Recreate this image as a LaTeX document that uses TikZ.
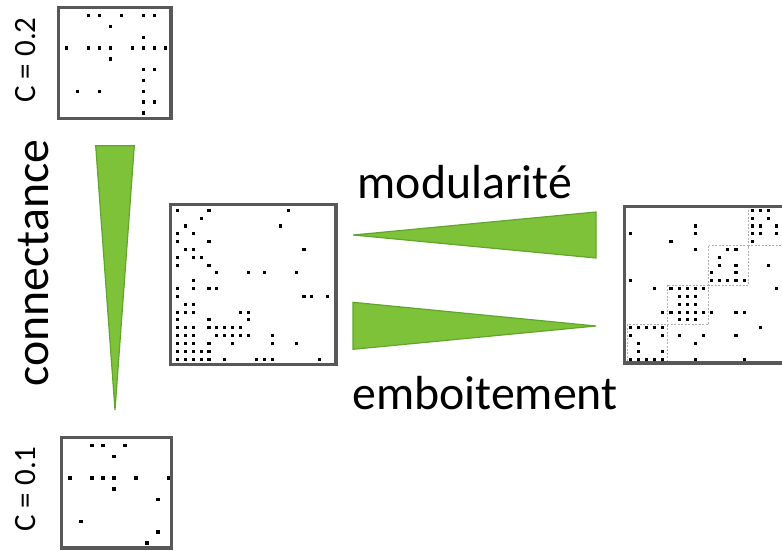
\documentclass[tikz,border=0pt]{standalone}
\usepackage{fontspec}
\setmainfont{Carlito}
\definecolor{framegray}{RGB}{88,88,88}
\definecolor{dashgray}{RGB}{175,175,175}
\definecolor{trigreen}{RGB}{126,194,58}
\definecolor{triedge}{RGB}{96,166,44}
\begin{document}
\begin{tikzpicture}[x=1pt,y=-1pt,
  frame/.style={draw=framegray,line width=3.4pt,inner sep=0pt,outer sep=0pt},
  tri/.style={fill=trigreen,draw=triedge,line width=1.2pt,line join=miter},
  blk/.style={draw=dashgray,line width=0.9pt,dash pattern=on 2pt off 1.5pt},
  lab/.style={font=\fontsize{47.8}{50}\selectfont,inner sep=0pt},
  clab/.style={font=\fontsize{31}{34}\selectfont,inner sep=0pt,rotate=90}]
\useasboundingbox (0,0) rectangle (782,550);

% ---- top-left matrix (C = 0.2)
\foreach \c/\r in {2/0,3/0,5/0,7/0,8/0, 4/1, 7/2, 0/3,2/3,3/3,4/3,6/3,7/3,8/3,9/3, 4/4, 7/5,8/5, 7/6, 1/7,3/7,7/7, 7/8,8/8, 7/9}
  \fill ({66.7+11*\c-1.75},{15.7+10.8*\r-1.75}) rectangle ++(3.5,3.5);
\node[frame,minimum width=112.7pt,minimum height=111pt] (tl) at (114.65,62.8) {};

% ---- bottom-left matrix (C = 0.1)
\foreach \c/\r in {2/0,3/0,5/0, 4/1, 0/3,2/3,3/3,4/3,6/3,9/3, 4/4, 8/5, 1/7, 8/8, 7/9}
  \fill ({70+11*\c-1.75},{445.7+10.8*\r-1.75}) rectangle ++(3.5,3.5);
\node[frame,minimum width=110pt,minimum height=110.7pt] (bl) at (116.7,492.65) {};

% ---- middle matrix
\foreach \c/\r in {0/0,4/0,14/0, 3/1, 1/2,13/2, 0/3,2/3, 0/4,4/4, 1/5,2/5,16/5,
  0/6,2/6,3/6, 0/7,4/7, 5/8,9/8,11/8,15/8, 2/9, 0/10,2/10,4/10,5/10,
  0/11,16/11,17/11,19/11, 1/12,2/12, 0/13,1/13,2/13,8/13,9/13, 0/14,4/14,9/14,
  0/15,1/15,2/15,4/15,5/15,6/15,7/15,8/15,
  0/16,1/16,2/16,5/16,6/16,7/16,8/16,9/16,12/16,
  0/17,1/17,2/17,4/17,7/17,12/17,15/17,
  0/18,1/18,2/18,3/18,4/18,
  0/19,1/19,2/19,3/19,4/19,6/19,10/19,11/19,12/19,18/19}
  \fill ({177.3+7.92*\c-1.55},{210.3+7.83*\r-1.55}) rectangle ++(3.1,3.1);
\node[frame,minimum width=165.3pt,minimum height=160pt] (mid) at (253.35,284.3) {};

% ---- right matrix (modules)
\draw[blk] (627.3,324) rectangle (667.3,363);
\draw[blk] (667.3,285.3) rectangle (708.7,324);
\draw[blk] (708.7,245.7) rectangle (748.7,285.3);
\draw[blk] (748.7,206) rectangle (790,245.7);
\foreach \c/\r in {15/0,16/0,17/0, 15/1,17/1, 8/2,15/2,16/2,18/2, 0/3,8/3,15/3,16/3,18/3,
  5/4,15/4, 8/5,12/5,13/5, 11/6, 11/7,13/7,17/7, 10/8,13/8,
  0/9,10/9,11/9,12/9,13/9,14/9, 3/10,5/10,6/10,7/10,8/10,9/10,18/10,
  6/11,7/11,8/11, 6/12,7/12,8/12, 4/13,5/13,6/13,7/13,8/13,9/13,10/13,13/13,14/13,
  6/14,7/14,8/14, 0/15,1/15,2/15,3/15,4/15,16/15, 0/16,4/16,6/16,9/16,13/16,
  1/17,8/17, 1/18,4/18, 0/19,1/19,2/19,3/19,4/19,8/19,14/19}
  \fill ({630.3+8.13*\c-1.55},{210.3+7.83*\r-1.55}) rectangle ++(3.1,3.1);
\node[frame,minimum width=165.3pt,minimum height=156.7pt] (rt) at (707.35,284.65) {};

% ---- triangles
\draw[tri] (95.7,145.7) -- (134.3,145.7) -- (115,410) -- cycle;
\draw[tri] (353.3,235) -- (596,212) -- (596,258) -- cycle;
\draw[tri] (353,302.3) -- (353,349.3) -- (596,326) -- cycle;

% ---- labels
\node[lab] (mod) at (465,182) {modularité};
\node[lab] (emb) at (485,393) {emboitement};
\node[lab,rotate=90] (con) at (34,263) {connectance};
\node[clab] (c2) at (26,60) {C = 0.2};
\node[clab] (c1) at (26,489) {C = 0.1};
\end{tikzpicture}
\end{document}
